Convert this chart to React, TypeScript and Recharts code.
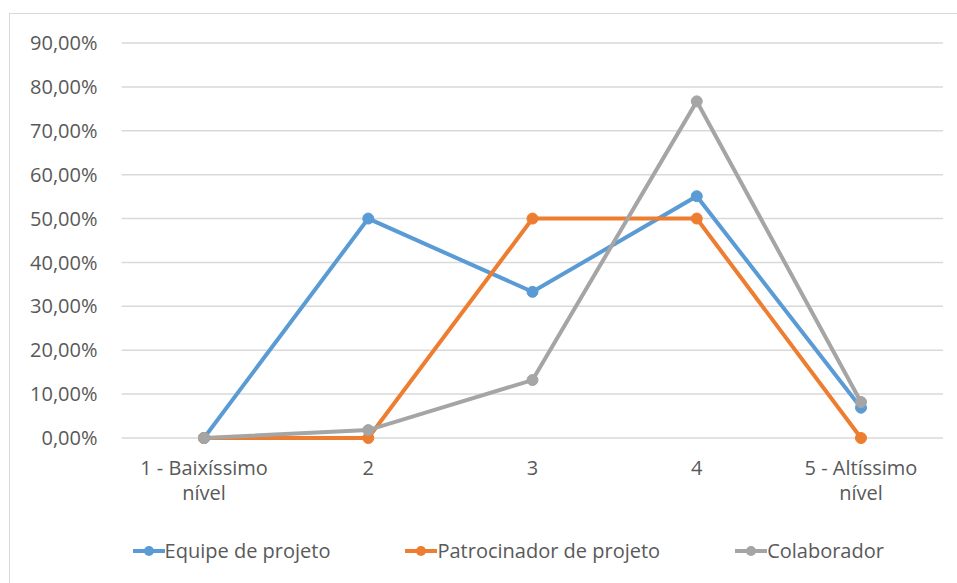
import React from 'react';
import { LineChart, Line, XAxis, YAxis, CartesianGrid, Legend } from 'recharts';

const categories = ['1 - Baixíssimo nível', '2', '3', '4', '5 - Altíssimo nível'];
const equipe = [0, 0.5, 0.333, 0.551, 0.069];
const patrocinador = [0, 0, 0.5, 0.5, 0];
const colaborador = [0, 0.018, 0.132, 0.767, 0.082];
const yTicks = [0, 0.1, 0.2, 0.3, 0.4, 0.5, 0.6, 0.7, 0.8, 0.9];

const seriesInfo = [
    { key: 'equipe', name: 'Equipe de projeto', color: '#5B9BD5' },
    { key: 'patrocinador', name: 'Patrocinador de projeto', color: '#ED7D31' },
    { key: 'colaborador', name: 'Colaborador', color: '#A5A5A5' },
];

const data = categories.map((c, i) => ({
    cat: c,
    equipe: equipe[i],
    patrocinador: patrocinador[i],
    colaborador: colaborador[i],
}));

const FONT = '"Open Sans", "Noto Sans", sans-serif';
const TEXT = '#595959';
const FS = 20;

const fmtPct = (v: number) => (v * 100).toFixed(2).replace('.', ',') + '%';

// quebra rótulo longo em duas linhas (última palavra embaixo)
const CatTick = (props: any) => {
    const { x, y, payload } = props;
    const label: string = payload.value;
    const idx = label.lastIndexOf(' ');
    const lines = label.length > 3 && idx > 0 ? [label.slice(0, idx), label.slice(idx + 1)] : [label];
    return (
        <text x={x} y={y} textAnchor="middle" fill={TEXT} fontSize={FS} fontFamily={FONT}>
            {lines.map((l, i) => (
                <tspan key={i} x={x} dy={i === 0 ? 29 : 25}>{l}</tspan>
            ))}
        </text>
    );
};

const LegendContent = () => (
    <div style={{ display: 'flex', justifyContent: 'center', gap: 75, paddingLeft: 62, paddingTop: 7, fontFamily: FONT, fontSize: FS, color: TEXT }}>
        {seriesInfo.map((s) => (
            <div key={s.key} style={{ display: 'flex', alignItems: 'center' }}>
                <svg width={32} height={14}>
                    <line x1={0} y1={7} x2={32} y2={7} stroke={s.color} strokeWidth={4} />
                    <circle cx={16} cy={7} r={5} fill={s.color} />
                </svg>
                <span>{s.name}</span>
            </div>
        ))}
    </div>
);

export default function App() {
    return (
        <div style={{ position: 'absolute', left: 0, top: 0, width: 957, height: 583, background: '#fff', overflow: 'hidden' }}>
            <div style={{ position: 'absolute', left: 9, top: 13, width: 980, height: 600, border: '1px solid #d9d9d9' }} />
            <LineChart
                width={957}
                height={583}
                data={data}
                margin={{ top: 43, right: 14, left: 11.5, bottom: 13 }}
                style={{ position: 'absolute', left: 0, top: 0 }}
            >
                <CartesianGrid horizontal vertical={false} stroke="#d9d9d9" strokeWidth={1.5} />
                <XAxis
                    dataKey="cat"
                    scale="point"
                    padding={{ left: 82.5, right: 82 }}
                    axisLine={false}
                    tickLine={false}
                    height={92}
                    interval={0}
                    tick={<CatTick />}
                />
                <YAxis
                    domain={[0, 0.9]}
                    ticks={yTicks}
                    tickFormatter={fmtPct}
                    axisLine={false}
                    tickLine={false}
                    tickSize={0}
                    tickMargin={24}
                    width={110}
                    tick={{ fill: TEXT, fontSize: FS, fontFamily: FONT }}
                />
                <Legend verticalAlign="bottom" height={40} content={<LegendContent />} />
                {seriesInfo.map((s) => (
                    <Line
                        key={s.key}
                        type="linear"
                        dataKey={s.key}
                        name={s.name}
                        stroke={s.color}
                        strokeWidth={4}
                        dot={{ r: 5.5, fill: s.color, stroke: s.color, strokeWidth: 1 }}
                        activeDot={false}
                        isAnimationActive={false}
                    />
                ))}
            </LineChart>
        </div>
    );
}
